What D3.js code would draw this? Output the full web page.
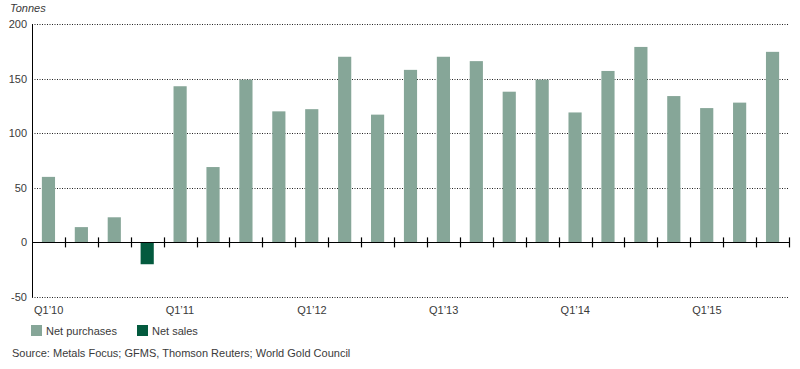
<!DOCTYPE html>
<html><head><meta charset="utf-8">
<script src="https://cdn.jsdelivr.net/npm/d3@7"></script>
<style>body{margin:0;background:#fff}svg{display:block;font-family:"Liberation Sans",Arial,sans-serif}</style>
</head><body><svg id="c" width="800" height="369"></svg>
<script>
const quarters = ["Q1'10","Q2'10","Q3'10","Q4'10","Q1'11","Q2'11","Q3'11","Q4'11","Q1'12","Q2'12","Q3'12","Q4'12","Q1'13","Q2'13","Q3'13","Q4'13","Q1'14","Q2'14","Q3'14","Q4'14","Q1'15","Q2'15","Q3'15"];
const values = [60,14,23,-20,143,69,149,120,122,170,117,158,170,166,138,149,119,157,179,134,123,128,174.5];
const yTicks = [-50,0,50,100,150,200];
const xLabels = ["Q1’10","Q1’11","Q1’12","Q1’13","Q1’14","Q1’15"];
const xLabelQuarters = ["Q1'10","Q1'11","Q1'12","Q1'13","Q1'14","Q1'15"];
const legendItems = ["Net purchases","Net sales"];
const colors = {pos:"#86a698", neg:"#035a3e"};

const svg = d3.select("#c");
const pLeft = 32, pRight = 789, pTop = 24, pBottom = 297;
const x = d3.scaleBand().domain(quarters).range([pLeft, pRight]).paddingInner(0.6).paddingOuter(0.3);
const xb = d3.scaleBand().domain(quarters).range([pLeft, pRight]);
const y = d3.scaleLinear().domain([-50, 200]).range([pBottom, pTop]);
const txt = "#3a3a3a";

// gridlines
svg.append("g").selectAll("line").data(yTicks.filter(d => d !== 0)).join("line")
  .attr("x1", pLeft).attr("x2", pRight).attr("y1", d => Math.round(y(d)) + 0.5).attr("y2", d => Math.round(y(d)) + 0.5)
  .attr("stroke", "#222").attr("stroke-width", 1).attr("stroke-dasharray", "1,1.5");

// bars
svg.append("g").selectAll("rect").data(quarters).join("rect")
  .attr("x", (d) => x(d))
  .attr("width", x.bandwidth())
  .attr("y", (d, i) => y(Math.max(0, values[i])))
  .attr("height", (d, i) => Math.abs(y(values[i]) - y(0)))
  .attr("fill", (d, i) => values[i] < 0 ? colors.neg : colors.pos);

// y axis line
svg.append("line").attr("x1", pLeft + 0.5).attr("x2", pLeft + 0.5).attr("y1", y(200)).attr("y2", y(-50))
  .attr("stroke", "#000").attr("stroke-width", 1);
// zero line
svg.append("line").attr("x1", pLeft).attr("x2", pRight).attr("y1", Math.round(y(0)) + 0.5).attr("y2", Math.round(y(0)) + 0.5)
  .attr("stroke", "#000").attr("stroke-width", 1.2);
// ticks at band boundaries
const bounds = quarters.slice(1).map(q => xb(q)).concat([pRight]);
svg.append("g").selectAll("line").data(bounds).join("line")
  .attr("x1", d => Math.round(d) + 0.5).attr("x2", d => Math.round(d) + 0.5)
  .attr("y1", y(0) - 5).attr("y2", y(0) + 5).attr("stroke", "#000").attr("stroke-width", 1.2);

// y labels
svg.append("g").selectAll("text").data(yTicks).join("text")
  .attr("x", 27).attr("y", d => y(d) + 4).attr("text-anchor", "end")
  .attr("font-size", 11).attr("fill", txt).text(d => d);
svg.append("text").attr("x", 10).attr("y", 12).attr("font-size", 11).attr("font-style", "italic")
  .attr("fill", txt).text("Tonnes");

// x labels
svg.append("g").selectAll("text").data(xLabelQuarters).join("text")
  .attr("x", d => xb(d) + 2).attr("y", 314).attr("font-size", 11).attr("fill", txt)
  .text((d, i) => xLabels[i]);

// legend
const lg = svg.append("g");
const lx = [31, 137];
legendItems.forEach((t, i) => {
  lg.append("rect").attr("x", lx[i]).attr("y", 325).attr("width", 11).attr("height", 11)
    .attr("fill", i === 0 ? colors.pos : colors.neg);
  lg.append("text").attr("x", lx[i] + 15).attr("y", 335).attr("font-size", 11).attr("fill", txt).text(t);
});
svg.append("text").attr("x", 12).attr("y", 357).attr("font-size", 11).attr("fill", txt)
  .text("Source: Metals Focus; GFMS, Thomson Reuters; World Gold Council");
</script></body></html>
